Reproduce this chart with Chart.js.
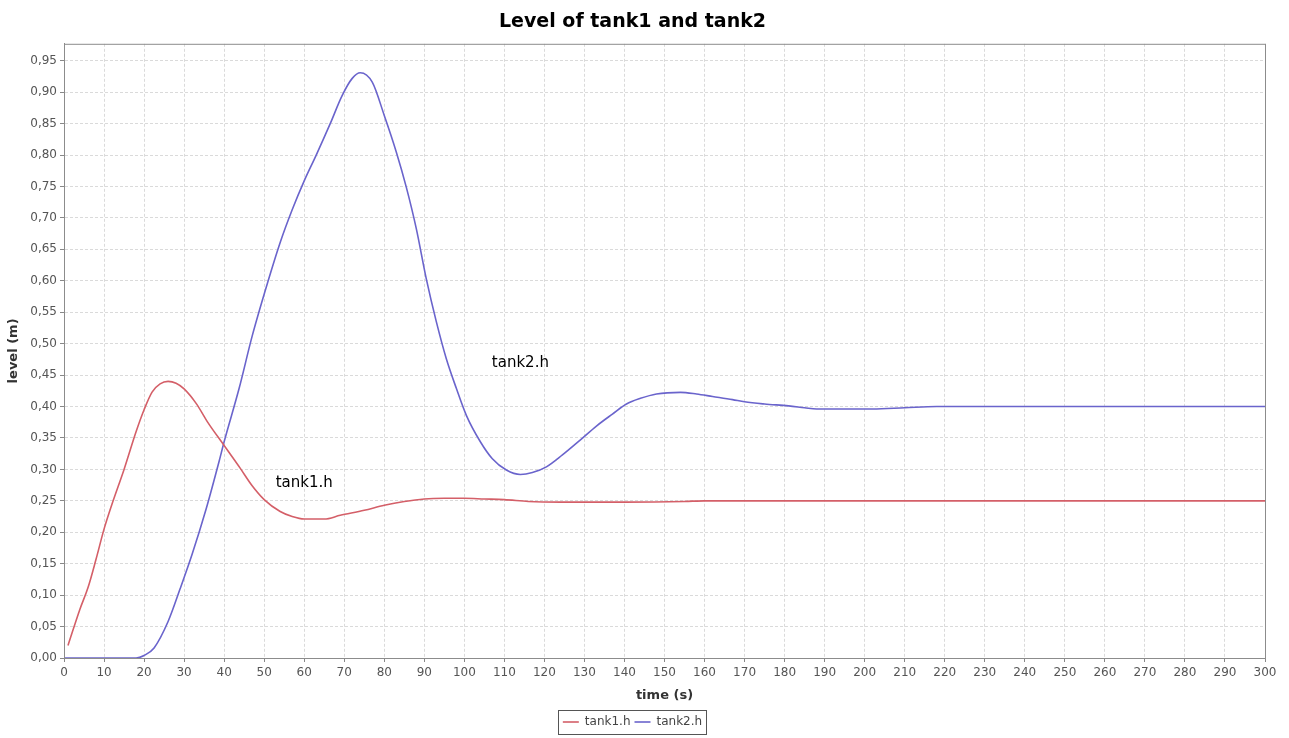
<!DOCTYPE html>
<html>
<head>
<meta charset="utf-8">
<script src="https://cdn.jsdelivr.net/npm/chart.js@4/dist/chart.umd.min.js"></script>
<style>
  html, body { margin: 0; padding: 0; background: #ffffff; }
  #wrap { width: 1289px; height: 738px; }
</style>
</head>
<body>
<div id="wrap"><canvas id="c" width="1289" height="738"></canvas></div>
<script>
// ---- data ----
const seriesNames = ['tank1.h', 'tank2.h'];

const tank1Time  = [1, 4, 6, 8, 10, 12, 15, 18, 20, 22, 24, 26, 28, 30, 33, 36, 40, 44, 47, 50, 54, 57, 60, 65, 69, 75, 80, 85, 90, 95, 100, 105, 110, 116, 124, 140, 155, 160, 300];
const tank1Level = [0.02, 0.078, 0.112, 0.157, 0.205, 0.245, 0.30, 0.36, 0.395, 0.423, 0.436, 0.44, 0.437, 0.428, 0.405, 0.374, 0.338, 0.302, 0.274, 0.252, 0.233, 0.225, 0.221, 0.221, 0.227, 0.235, 0.243, 0.249, 0.253, 0.254, 0.254, 0.253, 0.252, 0.249, 0.248, 0.248, 0.249, 0.25, 0.25];

const tank2Time  = [0, 18, 20, 22.5, 26, 29, 32, 35.5, 38.75, 40, 43.75, 47, 51, 54, 57, 60, 63, 66.5, 69.5, 72, 74, 77, 80, 83, 85.5, 88, 90.5, 93, 95.5, 98, 100.5, 104, 107, 110.5, 114, 117, 120.5, 124.5, 129, 133, 137, 140.5, 144, 148, 154, 158, 162, 167, 170, 175, 181, 185, 188, 202, 210, 218, 300];
const tank2Level = [0, 0, 0.004, 0.016, 0.058, 0.11, 0.165, 0.237, 0.313, 0.344, 0.429, 0.512, 0.60, 0.661, 0.713, 0.759, 0.80, 0.85, 0.895, 0.922, 0.931, 0.916, 0.863, 0.805, 0.749, 0.683, 0.603, 0.535, 0.476, 0.429, 0.386, 0.344, 0.317, 0.299, 0.292, 0.295, 0.304, 0.323, 0.347, 0.369, 0.388, 0.404, 0.413, 0.420, 0.4226, 0.420, 0.416, 0.411, 0.4075, 0.404, 0.401, 0.398, 0.396, 0.396, 0.398, 0.400, 0.400];

// in-plot text annotations (time, level)
const annotationText  = ['tank1.h', 'tank2.h'];
const annotationTime  = [60, 114];
const annotationLevel = [0.278, 0.469];

const xTickStep = 10;
const yTickStep = 0.05;

// ---- helpers ----
const toPoints = (xs, ys) => xs.map((x, i) => ({ x: x, y: ys[i] }));
const red = '#d45f68';
const blue = '#6a64cc';

const plotBorder = {
  id: 'plotBorder',
  afterDraw(chart) {
    const { ctx, chartArea: a, scales } = chart;
    ctx.save();
    // plot frame
    ctx.strokeStyle = '#8c8c8c';
    ctx.lineWidth = 1;
    ctx.strokeRect(a.left + 0.5, a.top + 0.5, a.right - a.left, a.bottom - a.top);
    // annotations
    ctx.fillStyle = '#000';
    ctx.font = '15px "DejaVu Sans", sans-serif';
    ctx.textAlign = 'center';
    ctx.textBaseline = 'middle';
    annotationText.forEach((t, i) => {
      ctx.fillText(t, scales.x.getPixelForValue(annotationTime[i]), scales.y.getPixelForValue(annotationLevel[i]));
    });
    // legend frame
    const boxes = chart.legend && chart.legend.legendHitBoxes;
    if (boxes && boxes.length) {
      let l = Infinity, r = -Infinity, t = Infinity, b = -Infinity;
      boxes.forEach(h => { l = Math.min(l, h.left); r = Math.max(r, h.left + h.width); t = Math.min(t, h.top); b = Math.max(b, h.top + h.height); });
      ctx.strokeStyle = '#555';
      ctx.strokeRect(Math.round(l - 5) + 0.5, Math.round(t - 6) + 0.5, Math.round(r - l + 9), Math.round(b - t + 12));
    }
    ctx.restore();
  }
};

new Chart(document.getElementById('c'), {
  type: 'line',
  data: {
    datasets: [
      { label: seriesNames[0], data: toPoints(tank1Time, tank1Level), borderColor: red, backgroundColor: red, borderWidth: 1.6, pointRadius: 0, cubicInterpolationMode: 'monotone', fill: false },
      { label: seriesNames[1], data: toPoints(tank2Time, tank2Level), borderColor: blue, backgroundColor: blue, borderWidth: 1.6, pointRadius: 0, cubicInterpolationMode: 'monotone', fill: false }
    ]
  },
  options: {
    responsive: false,
    animation: false,
    devicePixelRatio: 1,
    layout: { padding: { left: 0, right: 24, top: 0, bottom: 0 } },
    plugins: {
      title: {
        display: true,
        text: 'Level of tank1 and tank2',
        color: '#000',
        font: { family: '"DejaVu Sans", sans-serif', size: 19, weight: 'bold' },
        padding: { top: 11, bottom: 10 }
      },
      legend: {
        display: true,
        position: 'bottom',
        labels: {
          usePointStyle: true,
          pointStyle: 'line',
          pointStyleWidth: 16,
          color: '#444',
          font: { family: '"DejaVu Sans", sans-serif', size: 12 },
          padding: 4,
          boxHeight: 8
        }
      },
      tooltip: { enabled: false }
    },
    scales: {
      x: {
        type: 'linear',
        min: 0,
        max: 300,
        ticks: {
          stepSize: xTickStep,
          color: '#555',
          font: { family: '"DejaVu Sans", sans-serif', size: 12 },
          padding: 4,
          maxRotation: 0,
          autoSkip: false
        },
        grid: { color: '#dadada', tickColor: '#888', tickLength: 4, lineWidth: 1 },
        border: { color: '#8c8c8c', dash: [3, 2] },
        title: { display: true, text: 'time (s)', color: '#333', font: { family: '"DejaVu Sans", sans-serif', size: 13, weight: 'bold' }, padding: { top: 2, bottom: 9 } },
        afterFit(scale) { scale.height = 54; }
      },
      y: {
        type: 'linear',
        min: 0,
        max: 0.977,
        afterBuildTicks(scale) {
          const t = [];
          for (let v = 0; v <= 0.95 + 1e-9; v += yTickStep) t.push({ value: Math.round(v * 100) / 100 });
          scale.ticks = t;
        },
        ticks: {
          color: '#555',
          font: { family: '"DejaVu Sans", sans-serif', size: 12 },
          padding: 3,
          callback: v => Number(v).toFixed(2).replace('.', ',')
        },
        grid: { color: '#dadada', tickColor: '#888', tickLength: 4, lineWidth: 1 },
        border: { color: '#8c8c8c', dash: [3, 2] },
        title: { display: true, text: 'level (m)', color: '#333', font: { family: '"DejaVu Sans", sans-serif', size: 13, weight: 'bold' }, padding: { top: 6, bottom: 2 } },
        afterFit(scale) { scale.width = 64; }
      }
    }
  },
  plugins: [plotBorder]
});
</script>
</body>
</html>
